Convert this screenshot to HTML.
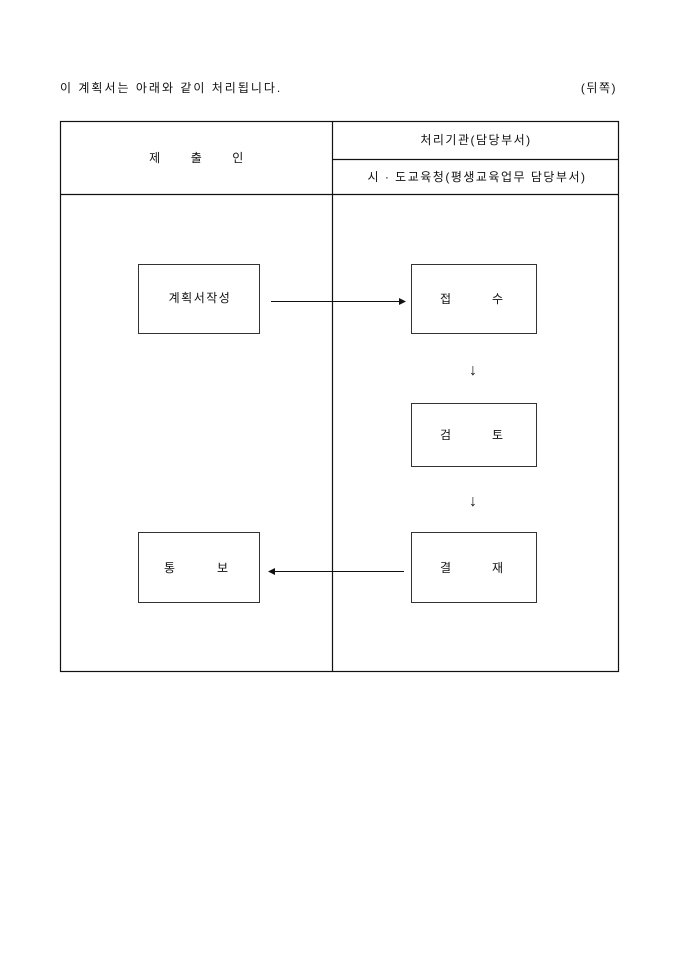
<!DOCTYPE html>
<html><head><meta charset="utf-8"><style>
html,body{margin:0;padding:0;background:#fff;width:680px;height:962px;overflow:hidden}
svg text{font-family:"Liberation Sans","Noto Sans CJK KR","NanumGothic",sans-serif;font-size:12px;fill:#111;letter-spacing:1.5px}
</style></head><body>
<svg width="680" height="962" viewBox="0 0 680 962" xmlns="http://www.w3.org/2000/svg">
<text x="60" y="92" style="letter-spacing:2px">이 계획서는 아래와 같이 처리됩니다.</text>
<text x="617" y="92" text-anchor="end">(뒤쪽)</text>
<g stroke="#111" stroke-width="1.2" fill="none">
<rect x="60.5" y="121.5" width="558" height="550"/>
<line x1="332.5" y1="121" x2="332.5" y2="672"/>
<line x1="332" y1="159.5" x2="619" y2="159.5"/>
<line x1="60" y1="194.5" x2="619" y2="194.5"/>
</g>
<g stroke="#333" stroke-width="1" fill="#fff">
<rect x="138.5" y="264.5" width="121" height="69"/>
<rect x="411.5" y="264.5" width="125" height="69"/>
<rect x="411.5" y="403.5" width="125" height="63"/>
<rect x="411.5" y="532.5" width="125" height="70"/>
<rect x="138.5" y="532.5" width="121" height="70"/>
</g>
<text x="197" y="162" text-anchor="middle" xml:space="preserve">제      출      인</text>
<text x="476" y="144" text-anchor="middle">처리기관(담당부서)</text>
<text x="477" y="181" text-anchor="middle">시 · 도교육청(평생교육업무 담당부서)</text>
<text x="200" y="302" text-anchor="middle">계획서작성</text>
<text x="440" y="303">접</text><text x="492" y="303">수</text>
<text x="440" y="439">검</text><text x="492" y="439">토</text>
<text x="440" y="572">결</text><text x="492" y="572">재</text>
<text x="164" y="572">통</text><text x="217" y="572">보</text>
<text x="473" y="375" text-anchor="middle" style="font-size:16px;letter-spacing:0">↓</text>
<text x="473" y="506" text-anchor="middle" style="font-size:16px;letter-spacing:0">↓</text>
<g stroke="#111" stroke-width="1">
<line x1="271" y1="301.5" x2="400" y2="301.5"/>
<line x1="274" y1="571.5" x2="404" y2="571.5"/>
</g>
<polygon points="406,301.5 399,298 399,305" fill="#111"/>
<polygon points="268,571.5 275,568 275,575" fill="#111"/>
</svg>
</body></html>
